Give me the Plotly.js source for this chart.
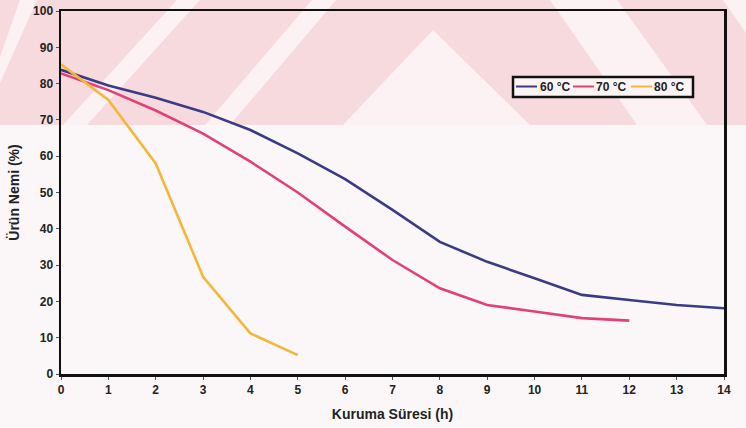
<!DOCTYPE html>
<html>
<head>
<meta charset="utf-8">
<script src="https://cdn.plot.ly/plotly-3.0.1.min.js"></script>
<style>html,body{margin:0;padding:0;background:#fbf7f8;}#chart{width:746px;height:428px;}</style>
</head>
<body>
<div id="chart"></div>
<script>
const hours = [0,1,2,3,4,5,6,7,8,9,10,11,12,13,14];
const hours70 = [0,1,2,3,4,5,6,7,8,9,10,11,12];
const hours80 = [0,1,2,3,4,5];
const moist60 = [83.8,79.5,76.1,72.2,67.2,60.8,53.7,45.2,36.4,30.9,26.4,21.8,20.4,19.0,18.1];
const moist70 = [82.8,78.2,72.6,66.2,58.5,50.0,40.6,31.4,23.6,19.0,17.2,15.4,14.7];
const moist80 = [85.3,75.5,58.0,26.8,11.2,5.2];
const seriesNames = ['60 °C','70 °C','80 °C'];
const seriesColors = ['#3a3b85','#e2407a','#f3b73a'];
const xTicks = [0,1,2,3,4,5,6,7,8,9,10,11,12,13,14];
const yTicks = [0,10,20,30,40,50,60,70,80,90,100];

// pixel -> paper helpers for the background watermark and legend box
const L=61, R=724, T=11, B=374;
const px = v => (v-L)/(R-L);
const py = v => (B-v)/(B-T);
function poly(pts, color){
  let d = pts.map((p,i)=>(i?'L':'M')+px(p[0]).toFixed(4)+','+py(p[1]).toFixed(4)).join(' ')+' Z';
  return {type:'path', xref:'paper', yref:'paper', path:d, fillcolor:color, line:{width:0}, layer:'below'};
}
const pink='#f7dade', white='#fcf2f3';
const shapes = [
  poly([[0,0],[746,0],[746,125],[0,125]], pink),
  poly([[0,57],[20,0],[37,0],[0,83]], white),
  poly([[63,125],[177,0],[200,0],[87,125]], white),
  poly([[205,125],[312,0],[336,0],[230,125]], white),
  poly([[343,125],[433,30],[530,125]], white),
  poly([[550,0],[617,0],[707,125],[637,125]], white),
  poly([[723,0],[746,0],[746,33]], white)
];
// legend box
shapes.push({type:'rect', xref:'paper', yref:'paper', x0:px(513), x1:px(693), y0:py(97), y1:py(77),
  fillcolor:'#fcf3f4', line:{color:'#111', width:2.5}, layer:'above'});
const legendLineX = [516, 573, 631];
const legendTextX = [538, 594, 652];
const annotations = [];
seriesNames.forEach((n,i)=>{
  shapes.push({type:'line', xref:'paper', yref:'paper', x0:px(legendLineX[i]), x1:px(legendLineX[i]+21),
    y0:py(86.5), y1:py(86.5), line:{color:seriesColors[i], width:2}, layer:'above'});
  annotations.push({xref:'paper', yref:'paper', x:px(legendTextX[i]), y:py(87), xanchor:'left', yanchor:'middle',
    text:n, showarrow:false, font:{family:'Liberation Sans, Arial, sans-serif', size:12, color:'#222', weight:'bold'}});
});

const data = [
  {x:hours, y:moist60, name:seriesNames[0], type:'scatter', mode:'lines', line:{color:seriesColors[0], width:2.6}},
  {x:hours70, y:moist70, name:seriesNames[1], type:'scatter', mode:'lines', line:{color:seriesColors[1], width:2.6}},
  {x:hours80, y:moist80, name:seriesNames[2], type:'scatter', mode:'lines', line:{color:seriesColors[2], width:2.6}}
];
const fam = 'Liberation Sans, Arial, sans-serif';
const tickFont = {family:fam, size:12, color:'#222', weight:'bold'};
const layout = {
  width:746, height:428,
  margin:{l:61, r:22, t:11, b:54, autoexpand:false},
  paper_bgcolor:'#fbf7f8',
  plot_bgcolor:'rgba(0,0,0,0)',
  shapes: shapes,
  annotations: annotations,
  showlegend:false,
  xaxis:{range:[0,14], tickvals:xTicks, ticktext:xTicks.map(String), showgrid:false, zeroline:false, automargin:false,
    showline:true, linecolor:'#111', linewidth:2.5, mirror:true, ticks:'outside', ticklen:3, tickcolor:'#555',
    tickfont:tickFont,
    title:{text:'Kuruma Süresi (h)', standoff:14, font:{family:fam, size:14, color:'#222', weight:'bold'}}},
  yaxis:{range:[0,100], tickvals:yTicks, ticktext:yTicks.map(String), showgrid:false, zeroline:false, automargin:false,
    showline:true, linecolor:'#111', linewidth:2.5, mirror:true, ticks:'outside', ticklen:3, tickcolor:'#555',
    tickfont:tickFont,
    title:{text:'Ürün Nemi (%)', standoff:10, font:{family:fam, size:14, color:'#222', weight:'bold'}}}
};
Plotly.newPlot('chart', data, layout, {displayModeBar:false, staticPlot:true});
</script>
</body>
</html>
